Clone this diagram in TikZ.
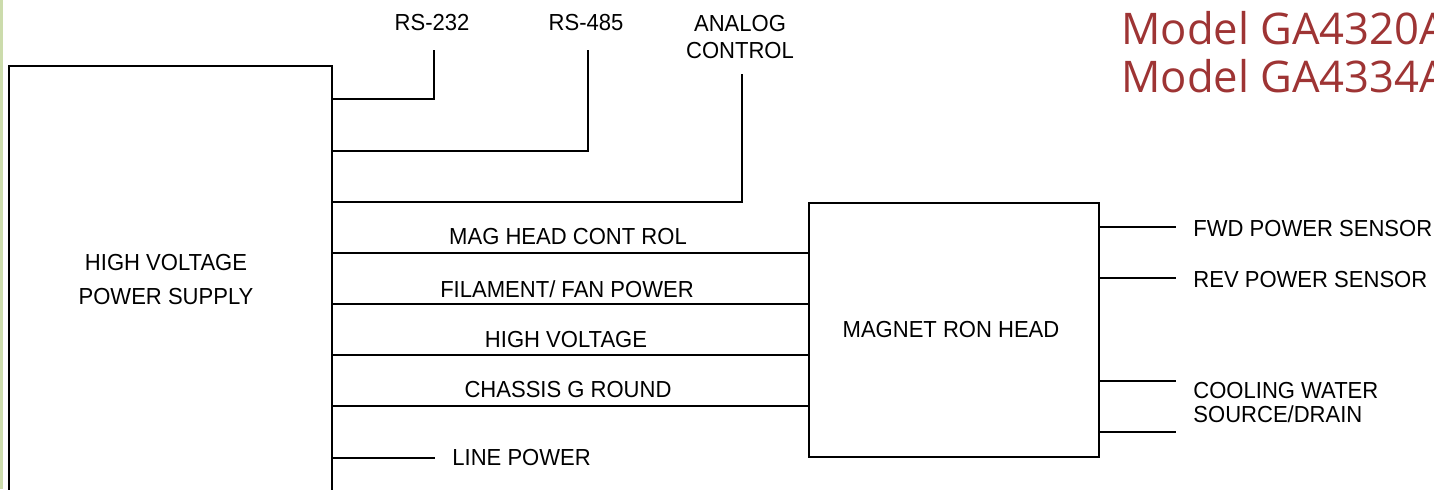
\documentclass[tikz,border=0pt]{standalone}
\usepackage{fontspec}
\setmainfont{Liberation Sans}[FakeStretch=0.95]
\newfontfamily\titlefont{Open Sans}
\definecolor{titlered}{RGB}{158,52,52}
\definecolor{edgegreen}{RGB}{204,220,172}
\tikzset{
  box/.style={draw, line width=0.9pt, inner sep=0pt},
  wire/.style={line width=0.9pt},
  lbl/.style={inner sep=0pt, font=\fontsize{11.6}{12}\selectfont},
  ttl/.style={inner sep=0pt, anchor=base west, text=titlered, font=\titlefont\fontsize{21.8}{24}\selectfont}
}
\begin{document}
\begin{tikzpicture}[x=0.5pt,y=-0.5pt]
\useasboundingbox (0,0) rectangle (1434,489);
\clip (0,0) rectangle (1434,489);
\fill[edgegreen] (0,0) rectangle (3,489);
% boxes
\node[box, minimum width=161.5pt, minimum height=214pt] (hv) at (170.5,280) {};
\node[lbl, align=center, font=\fontsize{11.6}{17}\selectfont] (hvt) at (166,280) {HIGH VOLTAGE\\POWER SUPPLY};
\node[box, minimum width=145pt, minimum height=127pt] (mag) at (954,330) {};
\node[lbl] (magt) at (951,330) {MAGNET RON HEAD};
% top labels
\node[lbl] (rs232) at (432,23) {RS-232};
\node[lbl] (rs485) at (586,23) {RS-485};
\node[lbl, align=center, font=\fontsize{11.6}{13.5}\selectfont] (analog) at (740,37) {ANALOG\\CONTROL};
\coordinate (t232) at (434,50);
\coordinate (t485) at (588,50);
\coordinate (tana) at (742,74);
\draw[wire] (hv.east |- 0,99) -| (t232);
\draw[wire] (hv.east |- 0,151) -| (t485);
\draw[wire] (hv.east |- 0,202) -| (tana);
% wires to magnetron head
\node[lbl] (mhc) at (568,237) {MAG HEAD CONT ROL};
\node[lbl] (fil) at (567,289) {FILAMENT/ FAN POWER};
\node[lbl] (hvl) at (566,340) {HIGH VOLTAGE};
\node[lbl] (chg) at (568,390) {CHASSIS G ROUND};
\draw[wire] (hv.east |- 0,253) -- (mag.west |- 0,253);
\draw[wire] (hv.east |- 0,304) -- (mag.west |- 0,304);
\draw[wire] (hv.east |- 0,355) -- (mag.west |- 0,355);
\draw[wire] (hv.east |- 0,406) -- (mag.west |- 0,406);
% line power
\node[lbl, anchor=west] (linep) at (452,458) {LINE POWER};
\draw[wire] (hv.east |- linep.west) -- ([xshift=-8.5pt]linep.west);
% right side
\node[lbl, anchor=west] (fwd) at (1193,229) {FWD POWER SENSOR};
\node[lbl, anchor=west] (rev) at (1193,280) {REV POWER SENSOR};
\node[lbl, anchor=west, align=left, font=\fontsize{11.6}{12}\selectfont] (cool) at (1193,403) {COOLING WATER\\SOURCE/DRAIN};
\draw[wire] (mag.east |- 0,227) -- ([xshift=-8.5pt]fwd.west |- 0,227);
\draw[wire] (mag.east |- 0,278) -- ([xshift=-8.5pt]rev.west |- 0,278);
\draw[wire] (mag.east |- 0,381) -- ([xshift=-8.5pt]cool.west |- 0,381);
\draw[wire] (mag.east |- 0,432) -- ([xshift=-8.5pt]cool.west |- 0,432);
% title
\node[ttl] (m1) at (1121,44) {Model GA4320A};
\node[ttl] (m2) at (1121,92) {Model GA4334A};
\end{tikzpicture}
\end{document}
